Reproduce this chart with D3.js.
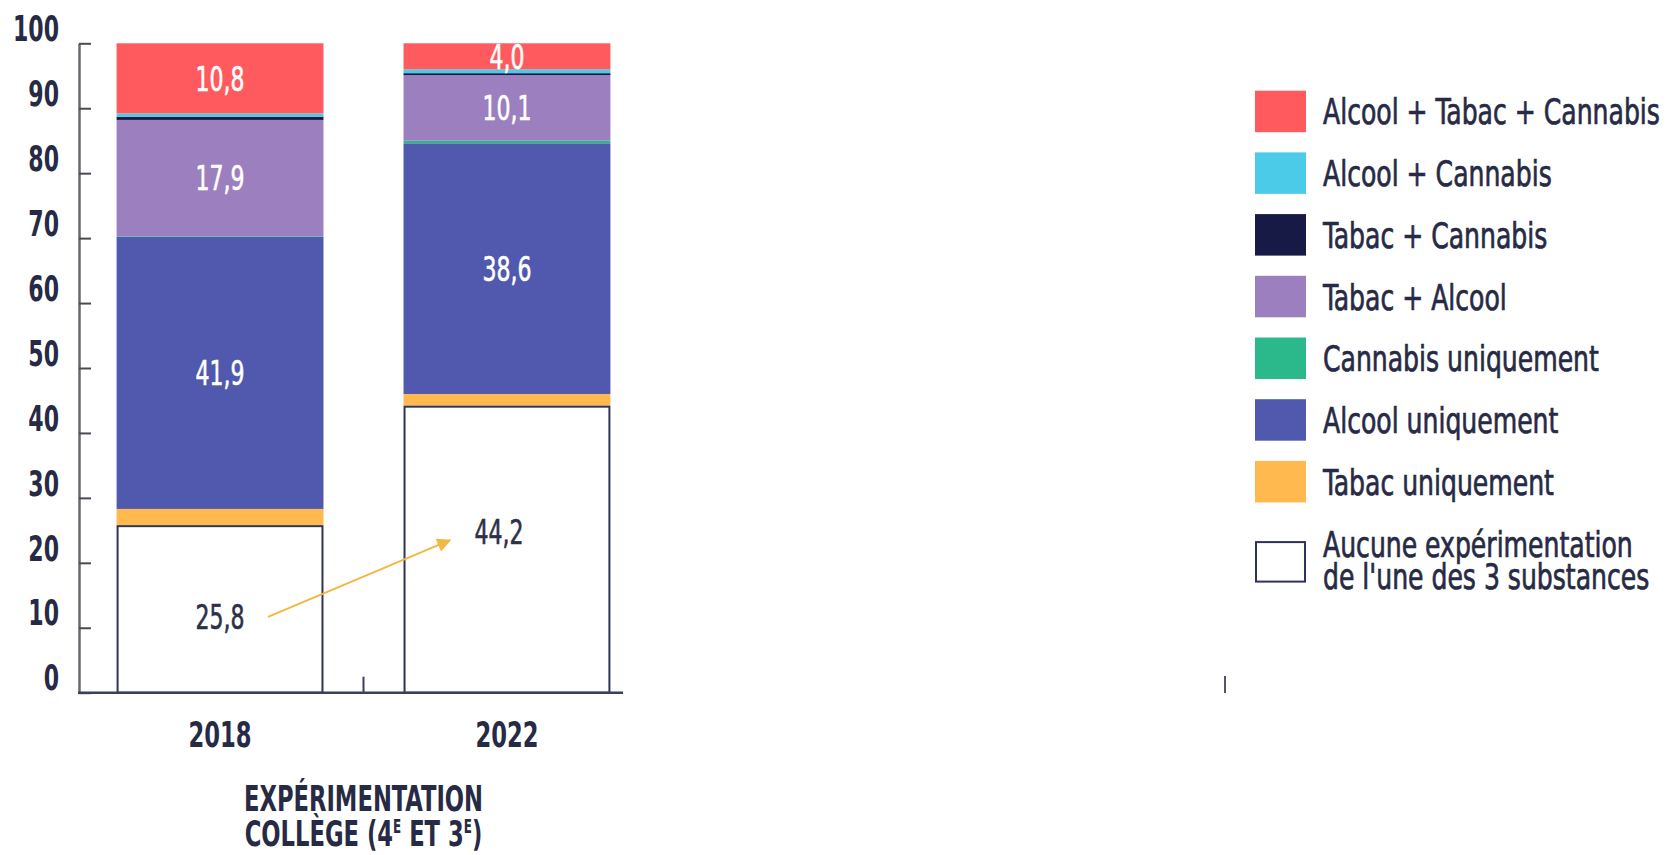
<!DOCTYPE html>
<html>
<head>
<meta charset="utf-8">
<script src="https://cdn.jsdelivr.net/npm/d3@7"></script>
<style>
  body { margin: 0; background: #fff; }
  text { font-family: "DejaVu Sans Condensed", "DejaVu Sans", sans-serif; }
</style>
</head>
<body>
<div id="grafico"></div>
<script>
// Datos del grafico
var annees = ["2018", "2022"];
var categories = ["Aucune", "Tabac uniquement", "Alcool uniquement", "Cannabis uniquement",
                  "Tabac + Alcool", "Tabac + Cannabis", "Alcool + Cannabis", "Alcool + Tabac + Cannabis"];
var valeurs2018 = [25.8, 2.5, 41.9, 0.1, 17.9, 0.5, 0.5, 10.8];
var valeurs2022 = [44.2, 1.8, 38.6, 0.4, 10.1, 0.3, 0.6, 4.0];
var libellesLegende = [["Aucune expérimentation", "de l'une des 3 substances"], ["Tabac uniquement"],
                       ["Alcool uniquement"], ["Cannabis uniquement"], ["Tabac + Alcool"],
                       ["Tabac + Cannabis"], ["Alcool + Cannabis"], ["Alcool + Tabac + Cannabis"]];
var couleurs = ["#ffffff", "#ffb94f", "#5059ad", "#2bb98c", "#9c7fbe", "#171a45", "#4ccbe9", "#ff5a5e"];
var ticksY = [0, 10, 20, 30, 40, 50, 60, 70, 80, 90, 100];

var width = 1670, height = 855;
var colTexte = "#272a45";

var svg = d3.select("#grafico").append("svg")
    .attr("width", width)
    .attr("height", height);

// Funcion auxiliar: estrecha el texto (la fuente original es condensada)
function comprime(sel, f) {
    sel.each(function() {
        var l = this.getComputedTextLength();
        d3.select(this).attr("textLength", l * f).attr("lengthAdjust", "spacingAndGlyphs");
    });
}

// tabla para el stack
var filas = annees.map(function(a, i) {
    var f = { annee: a };
    var vals = i == 0 ? valeurs2018 : valeurs2022;
    categories.forEach(function(c, j) { f[c] = vals[j]; });
    return f;
});
var series = d3.stack().keys(categories)(filas);

// Escalas
var x = d3.scaleBand().domain(annees).range([79, 648]).paddingInner(0.279).paddingOuter(0.131);
var y = d3.scaleLinear().domain([0, 100]).range([692.7, 43.3]);
var color = d3.scaleOrdinal().domain(categories).range(couleurs);

/************ Barras ************/
var capas = svg.append("g").selectAll("g")
    .data(series)
    .enter().append("g")
    .attr("fill", function(d) { return color(d.key); });

capas.selectAll("rect")
    .data(function(d) { return d; })
    .enter().append("rect")
    .attr("x", function(d) { return x(d.data.annee); })
    .attr("y", function(d) { return y(d[1]); })
    .attr("width", x.bandwidth())
    .attr("height", function(d) { return y(d[0]) - y(d[1]); });

// borde del bloque blanco
svg.append("g").selectAll("rect")
    .data(series[0])
    .enter().append("rect")
    .attr("x", function(d) { return x(d.data.annee) + 1; })
    .attr("y", function(d) { return y(d[1]) + 1; })
    .attr("width", x.bandwidth() - 2)
    .attr("height", function(d) { return y(d[0]) - y(d[1]) - 1; })
    .attr("fill", "none")
    .attr("stroke", "#2f3259")
    .attr("stroke-width", 2);

/************ Etiquetas ************/
var fmt = function(v) { return v.toFixed(1).replace(".", ","); };
var decalageAucune = { "2018": [0, 8], "2022": [-8, -17] };
var posLabel = {};

series.forEach(function(s) {
    s.forEach(function(d) {
        var v = d[1] - d[0];
        if (v < 3) return;
        var cx = x(d.data.annee) + x.bandwidth() / 2;
        var cy = (y(d[0]) + y(d[1])) / 2;
        var blanc = s.key == "Aucune";
        if (blanc) {
            cx += decalageAucune[d.data.annee][0];
            cy += decalageAucune[d.data.annee][1];
            posLabel[d.data.annee] = [cx, cy];
        }
        svg.append("text")
            .attr("class", "valeur")
            .attr("x", cx).attr("y", cy).attr("dy", "0.36em")
            .attr("text-anchor", "middle")
            .style("font-size", "34px")
            .style("fill", blanc ? "#2d3047" : "#ffffff")
            .style("stroke", blanc ? "#2d3047" : "#ffffff")
            .style("stroke-width", 0.6)
            .text(fmt(v));
    });
});
comprime(svg.selectAll("text.valeur"), 0.72);

// Flecha entre 25,8 y 44,2
svg.append("defs").append("marker")
    .attr("id", "fleche")
    .attr("viewBox", "0 0 10 10")
    .attr("refX", 9).attr("refY", 5)
    .attr("markerUnits", "userSpaceOnUse")
    .attr("markerWidth", 17).attr("markerHeight", 14)
    .attr("orient", "auto")
    .append("path")
    .attr("d", "M0,0L10,5L0,10Z")
    .attr("fill", "#f4b73f");

svg.append("line")
    .attr("x1", posLabel["2018"][0] + 48).attr("y1", posLabel["2018"][1])
    .attr("x2", posLabel["2022"][0] - 49).attr("y2", posLabel["2022"][1] + 8)
    .attr("stroke", "#f4b73f")
    .attr("stroke-width", 2)
    .attr("marker-end", "url(#fleche)");

/************ Ejes ************/
var ejeY = svg.append("g")
    .attr("transform", "translate(79,0)")
    .call(d3.axisLeft(y).tickValues(ticksY).tickSize(-12).tickSizeOuter(0).tickPadding(20));
ejeY.select(".domain").attr("stroke", "#68686e").attr("stroke-width", 2.5);
ejeY.selectAll(".tick line").attr("stroke", "#4a4a55").attr("stroke-width", 2);
ejeY.selectAll(".tick text")
    .attr("dy", "-0.08em")
    .style("font-size", "35px")
    .style("font-weight", "bold")
    .style("fill", colTexte)
    .attr("font-family", null);
comprime(ejeY.selectAll(".tick text"), 0.70);

// eje x
svg.append("line")
    .attr("x1", 78).attr("x2", 623)
    .attr("y1", y(0)).attr("y2", y(0))
    .attr("stroke", "#3c3f5a").attr("stroke-width", 2.5);
var milieu = (x("2018") + x.bandwidth() + x("2022")) / 2;
svg.append("line")
    .attr("x1", milieu).attr("x2", milieu)
    .attr("y1", y(0)).attr("y2", y(0) - 16)
    .attr("stroke", "#3c3f5a").attr("stroke-width", 2);
// marca suelta a la derecha
svg.append("line")
    .attr("x1", 1225).attr("x2", 1225)
    .attr("y1", 676).attr("y2", 693)
    .attr("stroke", "#55556a").attr("stroke-width", 2);

var labAnnees = svg.append("g").selectAll("text")
    .data(annees)
    .enter().append("text")
    .attr("x", function(d) { return x(d) + x.bandwidth() / 2; })
    .attr("y", 747)
    .attr("text-anchor", "middle")
    .style("font-size", "36px")
    .style("font-weight", "bold")
    .style("fill", colTexte)
    .text(function(d) { return d; });
comprime(labAnnees, 0.70);

// Titulo bajo el eje (escalado en horizontal)
var titre = svg.append("g")
    .style("font-size", "36px")
    .style("font-weight", "bold")
    .style("fill", colTexte);
titre.append("text")
    .attr("transform", "translate(" + milieu + ",811) scale(0.7,1)")
    .attr("text-anchor", "middle")
    .text("EXPÉRIMENTATION");
var t2 = titre.append("text")
    .attr("transform", "translate(" + milieu + ",846) scale(0.7,1)")
    .attr("text-anchor", "middle");
t2.append("tspan").text("COLLÈGE (4");
t2.append("tspan").attr("dy", "-13px").style("font-size", "19px").text("E");
t2.append("tspan").attr("dy", "13px").text(" ET 3");
t2.append("tspan").attr("dy", "-13px").style("font-size", "19px").text("E");
t2.append("tspan").attr("dy", "13px").text(")");

/************ Leyenda ************/
var legende = svg.append("g");
var ordre = d3.range(categories.length).reverse();
ordre.forEach(function(j, i) {
    var top = 90.7 + i * 61.7 + (i == ordre.length - 1 ? 18.5 : 0);
    var blanc = categories[j] == "Aucune";
    legende.append("rect")
        .attr("x", blanc ? 1256 : 1255).attr("y", blanc ? top + 1 : top)
        .attr("width", blanc ? 49 : 51).attr("height", blanc ? 39.5 : 41.5)
        .attr("fill", color(categories[j]))
        .attr("stroke", blanc ? "#2f3259" : "none")
        .attr("stroke-width", 2);
    var lignes = libellesLegende[j];
    var cy = top + 20.7;
    lignes.forEach(function(l, k) {
        legende.append("text")
            .attr("x", 1323)
            .attr("y", lignes.length == 1 ? cy + 13 : cy - 5 + k * 32)
            .style("font-size", "36px")
            .style("fill", colTexte)
            .style("stroke", colTexte)
            .style("stroke-width", 0.7)
            .text(l);
    });
});
comprime(legende.selectAll("text"), 0.775);
</script>
</body>
</html>
